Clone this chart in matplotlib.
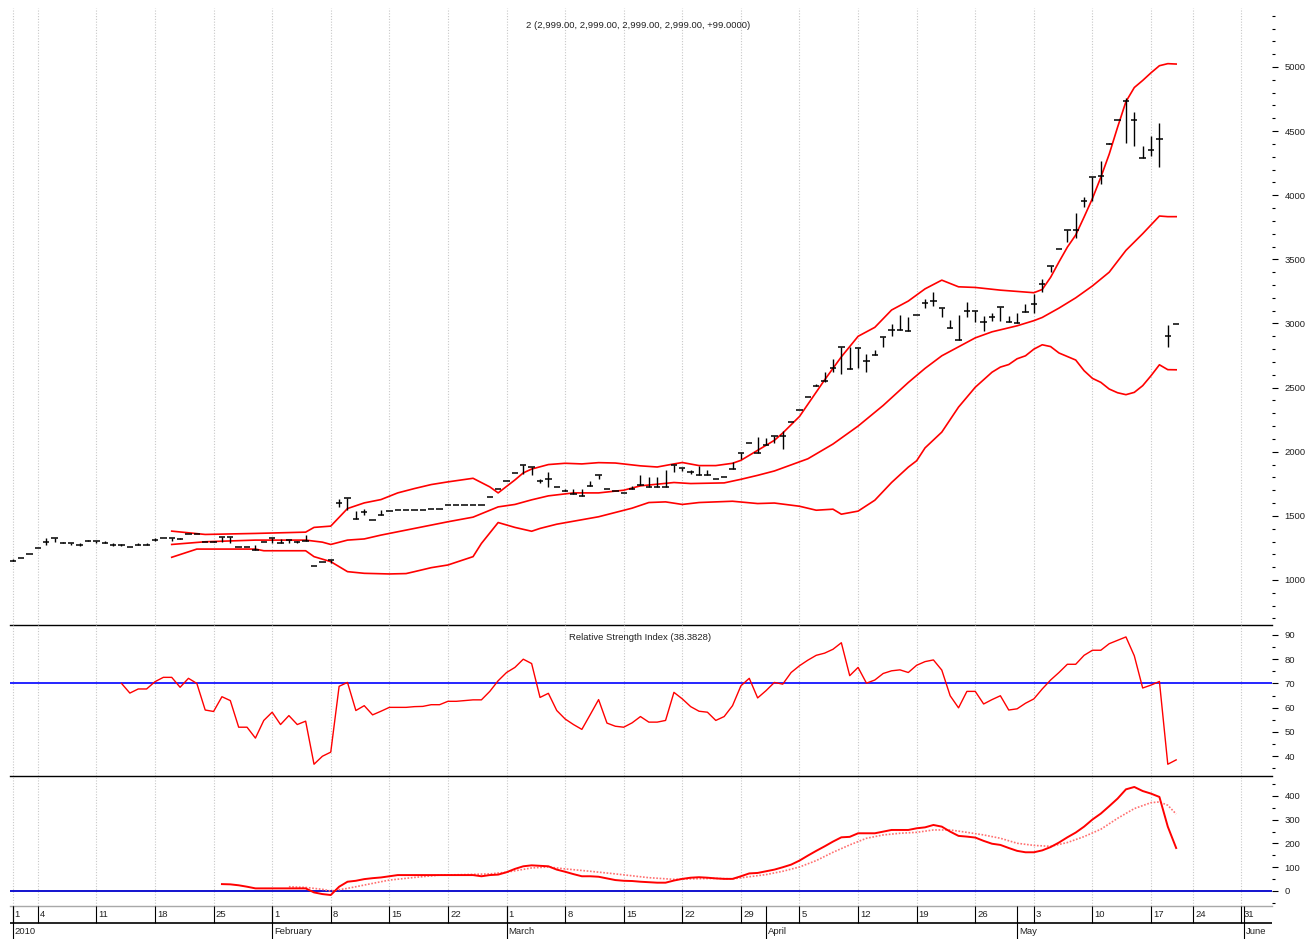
import matplotlib
matplotlib.use('Agg')
import matplotlib.pyplot as plt
import matplotlib.ticker as tk
import numpy as ny
import pandas as pd

# daily bars from 1 Jan 2010, one per calendar day (day 0 = Jan 1)
close = [
    1150, 1169, 1205, 1246, 1298, 1324, 1290, 1290, 1272, 1306,
    1306, 1285, 1272, 1272, 1259, 1272, 1272, 1311, 1329, 1324,
    1316, 1355, 1360, 1298, 1298, 1337, 1337, 1259, 1259, 1233,
    1298, 1324, 1290, 1311, 1298, 1303, 1111, 1142, 1155, 1604,
    1643, 1474, 1531, 1467, 1505, 1539, 1544, 1544, 1544, 1544,
    1557, 1557, 1583, 1583, 1583, 1583, 1583, 1648, 1708, 1770,
    1837, 1900, 1882, 1770, 1791, 1726, 1692, 1674, 1653, 1731,
    1822, 1706, 1692, 1682, 1708, 1744, 1726, 1726, 1726, 1900,
    1874, 1845, 1822, 1822, 1785, 1803, 1868, 1990, 2068, 1990,
    2050, 2120, 2120, 2231, 2327, 2426, 2516, 2555, 2651, 2820,
    2646, 2807, 2711, 2757, 2892, 2949, 2949, 2941, 3068, 3157,
    3177, 3120, 2965, 2872, 3100, 3100, 3009, 3048, 3126, 3009,
    3005, 3090, 3150, 3307, 3449, 3582, 3729, 3729, 3955, 4141,
    4149, 4401, 4590, 4733, 4590, 4292, 4351, 4442, 2900, 2999,
]
high = [
    1165, 1169, 1205, 1246, 1324, 1324, 1298, 1290, 1285, 1311,
    1306, 1306, 1285, 1282, 1259, 1285, 1285, 1324, 1329, 1324,
    1329, 1355, 1360, 1298, 1303, 1337, 1337, 1259, 1259, 1272,
    1298, 1324, 1316, 1311, 1306, 1350, 1111, 1142, 1155, 1635,
    1643, 1539, 1550, 1467, 1544, 1539, 1544, 1544, 1544, 1544,
    1557, 1557, 1583, 1583, 1583, 1583, 1583, 1648, 1708, 1770,
    1837, 1900, 1882, 1790, 1845, 1726, 1710, 1710, 1710, 1770,
    1822, 1706, 1692, 1682, 1733, 1816, 1800, 1800, 1855, 1900,
    1874, 1860, 1889, 1860, 1785, 1803, 1920, 1990, 2068, 2112,
    2110, 2120, 2159, 2231, 2327, 2426, 2530, 2620, 2724, 2820,
    2820, 2807, 2760, 2790, 2892, 2996, 3068, 3050, 3068, 3190,
    3242, 3120, 3027, 3068, 3164, 3100, 3061, 3080, 3126, 3061,
    3085, 3150, 3230, 3346, 3449, 3582, 3729, 3864, 3990, 4141,
    4266, 4410, 4590, 4759, 4650, 4383, 4460, 4564, 2990, 2999,
]
low = [
    1150, 1169, 1205, 1246, 1272, 1298, 1290, 1272, 1264, 1306,
    1290, 1285, 1264, 1264, 1259, 1272, 1272, 1303, 1329, 1306,
    1316, 1355, 1360, 1298, 1298, 1298, 1285, 1259, 1259, 1233,
    1298, 1285, 1290, 1290, 1290, 1303, 1111, 1142, 1135, 1570,
    1544, 1474, 1505, 1467, 1505, 1539, 1544, 1544, 1544, 1544,
    1557, 1557, 1583, 1583, 1583, 1583, 1583, 1648, 1708, 1770,
    1837, 1830, 1816, 1760, 1726, 1726, 1692, 1674, 1653, 1731,
    1790, 1706, 1692, 1682, 1708, 1744, 1726, 1726, 1726, 1845,
    1850, 1830, 1822, 1822, 1785, 1803, 1868, 1946, 2068, 1990,
    2050, 2070, 2020, 2231, 2327, 2426, 2516, 2540, 2620, 2607,
    2646, 2654, 2625, 2757, 2815, 2900, 2949, 2941, 3068, 3120,
    3140, 3048, 2965, 2872, 3048, 3009, 2944, 3020, 3020, 3009,
    3005, 3090, 3085, 3242, 3405, 3582, 3638, 3669, 3910, 3955,
    4084, 4401, 4590, 4409, 4383, 4292, 4305, 4219, 2818, 2999,
]

# bollinger bands at these days
upper_days = [19, 23, 29, 35, 36, 38, 40, 42, 44, 46, 48, 50, 52, 55, 57, 58, 60, 61, 62, 64,
              66, 68, 70, 72, 75, 77, 79, 80, 82, 84, 86, 87, 89, 91, 92, 94, 95, 97, 99, 101,
              103, 105, 107, 109, 111, 113, 115, 118, 120, 122, 123, 124, 125, 126, 127, 128, 129, 130, 131, 132,
              133, 134, 135, 136, 137, 138, 139]
upper = [1381, 1355, 1363, 1373, 1410, 1420, 1557, 1601, 1627, 1679, 1713, 1744, 1765, 1793, 1726, 1679, 1780, 1835, 1865, 1900,
         1910, 1905, 1915, 1912, 1890, 1881, 1905, 1916, 1892, 1892, 1910, 1933, 2011, 2089, 2146, 2275, 2370, 2560, 2740, 2900,
         2970, 3105, 3175, 3270, 3338, 3286, 3281, 3260, 3250, 3240, 3265, 3360, 3480, 3595, 3690, 3830, 3975, 4140, 4320, 4530,
         4730, 4840, 4895, 4955, 5010, 5026, 5023]
mid_days = [19, 23, 29, 35, 37, 38, 40, 42, 44, 48, 50, 52, 55, 58, 60, 62, 64, 67, 70, 73,
            75, 79, 81, 85, 87, 89, 91, 95, 98, 101, 104, 107, 109, 111, 113, 115, 117, 120, 122, 123,
            125, 127, 129, 131, 133, 135, 137, 138, 139]
mid = [1277, 1298, 1311, 1311, 1295, 1277, 1311, 1320, 1350, 1402, 1428, 1454, 1490, 1570, 1589, 1625, 1656, 1679, 1679, 1700,
       1734, 1760, 1752, 1757, 1785, 1816, 1850, 1945, 2060, 2200, 2361, 2540, 2650, 2748, 2818, 2888, 2935, 2982, 3022, 3047,
       3120, 3200, 3293, 3400, 3570, 3700, 3838, 3833, 3833]
lower_days = [19, 22, 29, 30, 35, 36, 38, 40, 42, 45, 47, 48, 50, 52, 55, 56, 58, 60, 62, 63,
              65, 70, 74, 76, 78, 80, 82, 86, 89, 91, 94, 96, 98, 99, 101, 103, 105, 107, 108, 109,
              111, 113, 115, 117, 118, 119, 120, 121, 122, 123, 124, 125, 127, 128, 129, 130, 131, 132, 133, 134,
              135, 136, 137, 138, 139]
lower = [1177, 1241, 1241, 1228, 1228, 1182, 1143, 1065, 1052, 1047, 1050, 1065, 1096, 1117, 1182, 1285, 1448, 1410, 1380, 1402,
         1435, 1493, 1560, 1604, 1609, 1589, 1604, 1614, 1596, 1600, 1575, 1544, 1552, 1513, 1537, 1622, 1760, 1880, 1930, 2030,
         2153, 2348, 2503, 2620, 2660, 2680, 2725, 2748, 2800, 2834, 2820, 2770, 2715, 2632, 2572, 2541, 2489, 2460, 2445, 2463,
         2515, 2593, 2678, 2640, 2639]

# RSI from day 13
rsi = [70.0, 66.0, 67.7, 67.7, 70.7, 72.5, 72.5, 68.4, 72.1, 70.0,
       59.0, 58.4, 64.5, 62.9, 51.9, 51.9, 47.4, 54.7, 58.1, 53.0,
       56.7, 53.0, 54.4, 36.6, 39.9, 41.6, 68.8, 70.4, 58.8, 60.8,
       57.0, 58.5, 60.1, 60.1, 60.1, 60.4, 60.5, 61.2, 61.2, 62.6,
       62.6, 62.9, 63.2, 63.2, 66.7, 71.1, 74.5, 76.6, 80.0, 78.2,
       64.2, 65.9, 58.8, 55.3, 53.0, 51.0, 57.1, 63.3, 53.6, 52.3,
       51.9, 53.7, 56.3, 54.0, 54.0, 54.7, 66.3, 63.6, 60.4, 58.5,
       58.1, 54.7, 56.3, 60.8, 69.0, 72.1, 64.0, 67.0, 70.4, 69.7,
       74.5, 77.3, 79.6, 81.6, 82.5, 84.1, 86.8, 73.2, 76.6, 70.1,
       71.4, 74.1, 75.2, 75.6, 74.5, 77.5, 79.0, 79.7, 75.5, 64.9,
       59.9, 66.7, 66.7, 61.5, 63.3, 64.9, 59.0, 59.5, 61.8, 63.6,
       67.7, 71.4, 74.5, 77.9, 77.9, 81.6, 83.7, 83.7, 86.4, 87.8,
       89.2, 81.4, 68.1, 69.3, 70.8, 36.6, 38.4]

# MACD from day 25
macd = [29, 28, 24, 18, 11, 11, 11, 11, 11, 11,
        11, -6, -13, -17, 18, 39, 43, 50, 54, 57,
        62, 67, 67, 67, 67, 67, 67, 67, 67, 67,
        67, 62, 67, 69, 79, 93, 104, 108, 106, 104,
        90, 81, 71, 62, 62, 60, 53, 46, 43, 42,
        39, 37, 35, 35, 44, 51, 56, 58, 56, 53,
        51, 51, 62, 74, 76, 83, 90, 100, 111, 128,
        149, 169, 188, 208, 226, 228, 243, 243, 243, 250,
        257, 257, 257, 264, 268, 278, 271, 250, 232, 229,
        225, 211, 199, 194, 181, 169, 163, 163, 171, 185,
        204, 226, 246, 271, 301, 326, 357, 389, 428, 438,
        421, 410, 396, 271, 181]
sig_days = [33, 35, 37, 38, 40, 42, 45, 48, 51, 54, 57, 59, 62, 64, 66, 69, 72, 76, 79, 81,
            84, 86, 88, 90, 92, 94, 96, 98, 100, 102, 104, 106, 108, 110, 112, 114, 116, 118, 120, 122,
            124, 126, 128, 130, 132, 134, 136, 137, 138, 139]
sig = [18, 15, 7, 0, 11, 25, 46, 57, 67, 69, 72, 79, 97, 101, 93, 83, 72, 56, 49, 51,
       53, 51, 60, 69, 83, 101, 128, 163, 194, 222, 236, 243, 247, 257, 257, 247, 236, 222, 201, 192,
       188, 204, 229, 260, 306, 347, 372, 375, 361, 324]

title = "2 (2,999.00, 2,999.00, 2,999.00, 2,999.00, +99.0000)"
rsi_title = "Relative Strength Index (38.3828)"

# date axis: weekly ticks (Mondays) plus month starts
start = pd.Timestamp('2010-01-01')
mondays = pd.date_range('2010-01-04', '2010-05-17', freq='W-MON')
week_x = [0] + [(d - start).days for d in mondays]
week_lab = ['1'] + [str(d.day) for d in mondays]
# the software squeezes the empty days after the last bar
week_x += [141.0, 146.8]
week_lab += ['24', '31']
month_x = [0, 31, 59, 90, 120, 147.1]
month_lab = ['2010', 'February', 'March', 'April', 'May', 'June']

plt.rcParams['font.family'] = ['Liberation Sans', 'DejaVu Sans']
fs = 6.8
txtcol = '#222222'

W, H = 1309, 939
fig = plt.figure(figsize=(W / 100, H / 100), dpi=100)

def box(top, bottom):
    # pixel rows of the picture -> figure rect
    return [10 / W, 1 - bottom / H, 1262 / W, (bottom - top) / H]

ax1 = fig.add_axes(box(8, 625))
ax2 = fig.add_axes(box(625, 776))
ax3 = fig.add_axes(box(776, 906))
axd = fig.add_axes(box(906, 939))

xlim = (-0.32, 150.45)
days = ny.arange(len(close))

for ax in (ax1, ax2, ax3):
    ax.patch.set_alpha(0)
    ax.set_xlim(xlim)
    ax.set_xticks([])
    for s in ('left', 'right', 'top'):
        ax.spines[s].set_visible(False)
    ax.spines['bottom'].set_linewidth(1.0)
    ax.spines['bottom'].set_color('black')
    ax.spines['bottom'].set_zorder(5)
    ax.yaxis.tick_right()
    ax.tick_params(axis='y', which='major', direction='out', length=4, width=0.8,
                   pad=5, labelsize=fs, labelcolor=txtcol)
    ax.tick_params(axis='y', which='minor', direction='out', length=2, width=0.8)
    for x in week_x:
        ax.axvline(x, color='#c8c8c8', lw=0.8, ls=(0, (1, 1.5)), zorder=0)
ax3.spines['bottom'].set_color('#a8a8a8')

# price panel
ax1.set_ylim(649, 5460)
ax1.set_yticks([1000, 1500, 2000, 2500, 3000, 3500, 4000, 4500, 5000])
ax1.yaxis.set_minor_locator(tk.MultipleLocator(100))
ax1.vlines(days, low, high, color='black', lw=1.0, zorder=3)
ax1.hlines(close, days - 0.38, days + 0.38, color='black', lw=1.1, zorder=3)
ax1.plot(upper_days, upper, color='#ff0000', lw=1.2, zorder=2)
ax1.plot(mid_days, mid, color='#ff0000', lw=1.2, zorder=2)
ax1.plot(lower_days, lower, color='#ff0000', lw=1.2, zorder=2)

# RSI panel
ax2.set_ylim(31.74, 94.13)
ax2.set_yticks([40, 50, 60, 70, 80, 90])
ax2.yaxis.set_minor_locator(tk.MultipleLocator(5))
ax2.axhline(70, color='#0000ff', lw=1.2, zorder=1)
ax2.plot(ny.arange(13, 13 + len(rsi)), rsi, color='#ff0000', lw=1.0, zorder=2)

# MACD panel
ax3.set_ylim(-63.2, 484.2)
ax3.set_yticks([0, 100, 200, 300, 400])
ax3.yaxis.set_minor_locator(tk.MultipleLocator(50))
ax3.axhline(0, color='#0000cc', lw=1.3, zorder=1)
ax3.plot(sig_days, sig, color='#ff7070', lw=1.2, ls=(0, (1, 1)), zorder=2)
ax3.plot(ny.arange(25, 25 + len(macd)), macd, color='#ff0000', lw=1.4, zorder=3)

# date axis drawn by hand, two rows
axd.set_xlim(xlim)
axd.set_ylim(0, 33)
axd.axis('off')
axd.axhline(16, color='black', lw=1.2)
axd.vlines(week_x, 16, 33, color='black', lw=0.8)
axd.vlines(month_x, 0, 33, color='black', lw=0.8)
for x, t in zip(week_x, week_lab):
    axd.text(x + 0.25, 24.5, t, ha='left', va='center', fontsize=fs, color=txtcol)
for x, t in zip(month_x, month_lab):
    axd.text(x + 0.25, 7.5, t, ha='left', va='center', fontsize=fs, color=txtcol)

fig.text(638 / W, 1 - 25 / H, title, ha='center', va='center', fontsize=fs, color=txtcol)
fig.text(640 / W, 1 - 638 / H, rsi_title, ha='center', va='center', fontsize=fs, color=txtcol)

fig.savefig('out.png', dpi=100)
